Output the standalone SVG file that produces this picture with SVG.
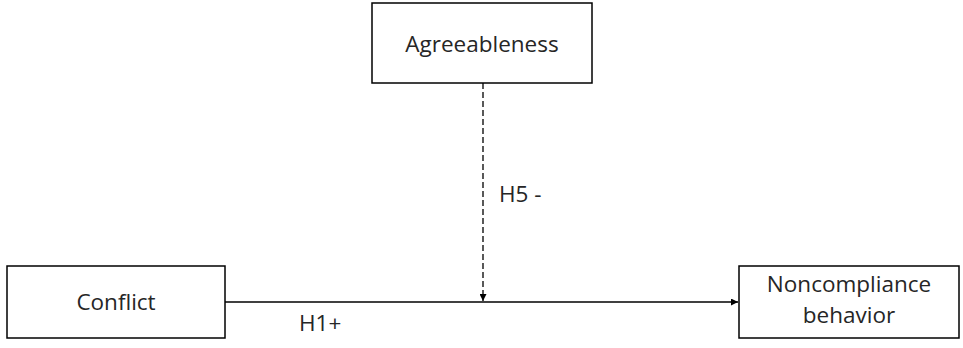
<svg xmlns="http://www.w3.org/2000/svg" width="963" height="348" viewBox="0 0 963 348">
  <style>
    .box { fill: #ffffff; stroke: #000000; stroke-width: 1.5; }
    .lbl { font-family: "Open Sans", "Liberation Sans", sans-serif; font-size: 22.5px; fill: #262626; }
    .edge { fill: none; stroke: #000000; stroke-width: 1.3; }
  </style>
  <defs>
    <marker id="arrow" viewBox="0 0 8 8" refX="8" refY="4" markerWidth="7" markerHeight="7" orient="auto" markerUnits="userSpaceOnUse">
      <path d="M0,0 L8,4 L0,8 z" fill="#000000"/>
    </marker>
  </defs>
  <rect width="963" height="348" fill="#ffffff"/>

  <g id="connectors">
    <line class="edge" x1="225" y1="302" x2="738" y2="302" marker-end="url(#arrow)"/>
    <line class="edge" x1="483" y1="83" x2="483" y2="301" stroke-dasharray="6,3" marker-end="url(#arrow)"/>
    <text class="lbl" x="499" y="202">H5 -</text>
    <text class="lbl" x="299" y="331">H1+</text>
  </g>

  <g id="agreeableness">
    <rect class="box" x="372" y="3" width="220" height="80"/>
    <text class="lbl" x="482" y="52" text-anchor="middle">Agreeableness</text>
  </g>

  <g id="conflict">
    <rect class="box" x="7" y="266" width="218" height="72"/>
    <text class="lbl" x="116" y="310" text-anchor="middle">Conflict</text>
  </g>

  <g id="noncompliance">
    <rect class="box" x="739" y="266" width="220" height="72"/>
    <text class="lbl" x="849" y="292" text-anchor="middle">Noncompliance</text>
    <text class="lbl" x="849" y="323" text-anchor="middle">behavior</text>
  </g>
</svg>
